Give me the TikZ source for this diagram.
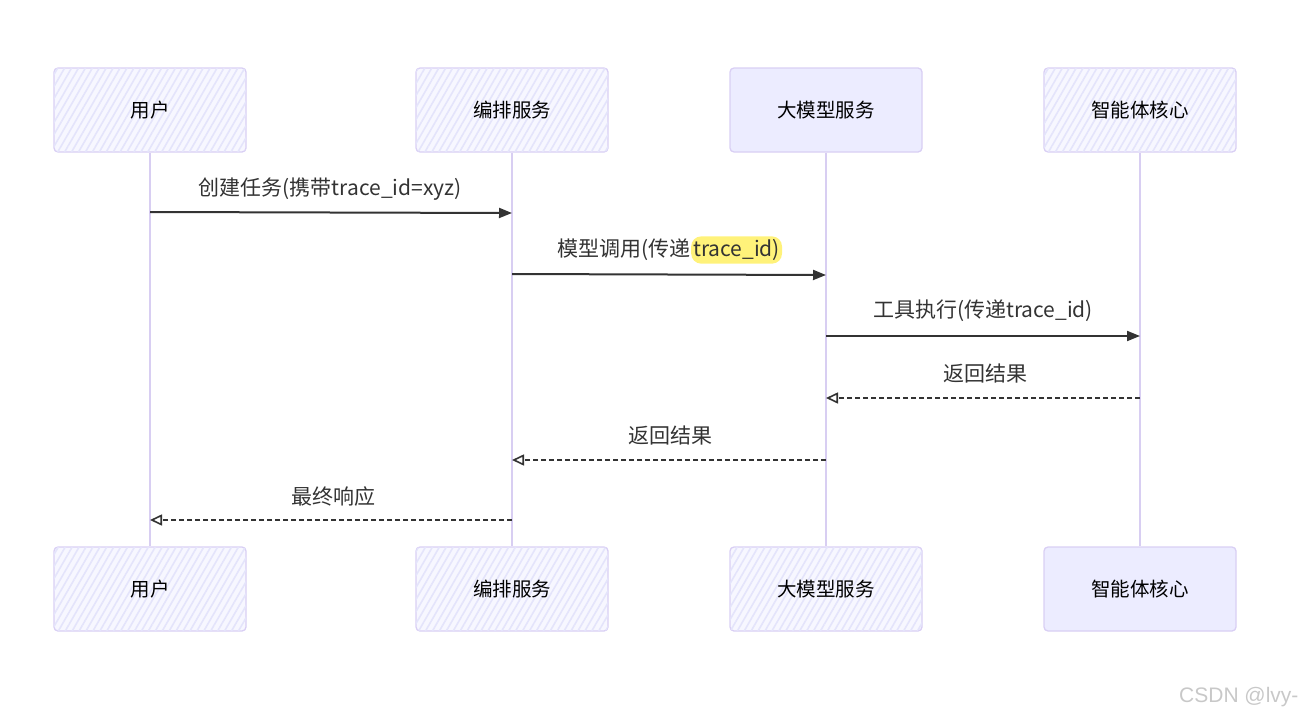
\documentclass[tikz,border=0pt]{standalone}
\usepackage{fontspec}
\setmainfont{Noto Sans CJK SC}
\newfontfamily\latinfont{Liberation Sans}
\usetikzlibrary{arrows.meta,patterns.meta}
\definecolor{boxbg}{HTML}{F7F7FF}
\definecolor{boxsolid}{HTML}{ECECFF}
\definecolor{boxline}{HTML}{D9CFF4}
\definecolor{hatchc}{HTML}{E4E4FB}
\definecolor{life}{HTML}{D8CEF2}
\definecolor{msg}{HTML}{333333}
\definecolor{hl}{HTML}{FFF27A}
\definecolor{wm}{HTML}{C8C8C8}
\tikzset{
  actor/.style={draw=boxline, line width=1.3pt, rounded corners=4pt,
    minimum width=192pt, minimum height=84pt, inner sep=0pt,
    fill=boxbg, font=\fontsize{19.5}{23}\selectfont, text=black,
    postaction={pattern={Lines[angle=60,distance=6pt,line width=1.6pt]}, pattern color=hatchc}},
  actorsolid/.style={draw=boxline, line width=1.3pt, rounded corners=4pt,
    minimum width=192pt, minimum height=84pt, inner sep=0pt,
    fill=boxsolid, font=\fontsize{19.5}{23}\selectfont, text=black},
  lifeline/.style={draw=life, line width=2.4pt},
  call/.style={draw=msg, line width=2pt, -{Triangle[length=13pt,width=10pt]}},
  reply/.style={draw=msg, line width=1.6pt, dash pattern=on 5pt off 3pt,
    -{Triangle[open,length=12pt,width=11pt,line width=1.6pt]}},
  lbl/.style={font=\fontsize{21}{25}\selectfont, text=msg, inner sep=1pt}
}
\begin{document}
\begin{tikzpicture}[x=1pt,y=-1pt]
\useasboundingbox (0,0) rectangle (1308,720);
% top actors
\node[actor] (u1) at (150,110) {用户};
\node[actor] (o1) at (512,110) {编排服务};
\node[actorsolid] (m1) at (826,110) {大模型服务};
\node[actor] (a1) at (1140,110) {智能体核心};
% bottom actors
\node[actor] (u2) at (150,589) {用户};
\node[actor] (o2) at (512,589) {编排服务};
\node[actor] (m2) at (826,589) {大模型服务};
\node[actorsolid] (a2) at (1140,589) {智能体核心};
% lifelines
\draw[lifeline] (u1.south) -- (u2.north);
\draw[lifeline] (o1.south) -- (o2.north);
\draw[lifeline] (m1.south) -- (m2.north);
\draw[lifeline] (a1.south) -- (a2.north);
% message anchors
\coordinate (c1s) at (150,212); \coordinate (c1e) at (512,213);
\coordinate (c2s) at (512,274); \coordinate (c2e) at (826,275);
\coordinate (c3s) at (826,336); \coordinate (c3e) at (1140,336);
\coordinate (r1s) at (1140,398); \coordinate (r1e) at (826,398);
\coordinate (r2s) at (826,460); \coordinate (r2e) at (512,460);
\coordinate (r3s) at (512,520); \coordinate (r3e) at (150,520);
% messages
\draw[call] (c1s) -- (c1e);
\node[lbl] (l1) at (330,189) {创建任务(携带trace\_id=xyz)};
\draw[call] (c2s) -- (c2e);
\node[lbl, anchor=east] (l2a) at (692,250) {模型调用(传递};
\node[lbl, anchor=west, fill=hl, rounded corners=10pt, inner xsep=2pt, inner ysep=3pt] (l2b) at ([xshift=-1pt]l2a.east) {trace\_id)};
\draw[call] (c3s) -- (c3e);
\node[lbl] (l3) at (983,311) {工具执行(传递trace\_id)};
\draw[reply] (r1s) -- (r1e);
\node[lbl] (l4) at (985,374) {返回结果};
\draw[reply] (r2s) -- (r2e);
\node[lbl] (l5) at (670,436) {返回结果};
\draw[reply] (r3s) -- (r3e);
\node[lbl] (l6) at (333,497) {最终响应};
% watermark
\node[font=\latinfont\fontsize{21}{24}\selectfont, text=wm, anchor=east] (wmk) at (1302,697) {CSDN @lvy-};
\end{tikzpicture}
\end{document}
